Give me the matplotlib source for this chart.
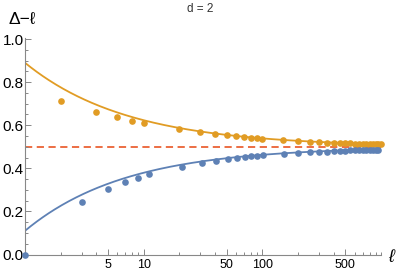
import numpy as np
import matplotlib.pyplot as plt
from matplotlib.ticker import FixedLocator, NullFormatter, MultipleLocator

plt.rcParams['font.family'] = ['Liberation Sans', 'DejaVu Sans']

#------------------------------------------------------------------------------
# Data
#------------------------------------------------------------------------------
l_even = [2, 4, 6, 8, 10, 20, 30, 40, 50, 60, 70, 80, 90, 100,
          150, 200, 250, 300, 350, 400, 450, 500, 550, 600, 650, 700,
          750, 800, 850, 900, 950, 1000]
d_even = [0.714, 0.663, 0.638, 0.622, 0.612, 0.582, 0.567, 0.558, 0.553,
          0.548, 0.545, 0.542, 0.539, 0.537, 0.531, 0.527, 0.523, 0.521,
          0.519, 0.518, 0.517, 0.516, 0.5155, 0.515, 0.5145, 0.514, 0.5135,
          0.513, 0.5125, 0.512, 0.512, 0.5115]

l_odd = [1, 3, 5, 7, 9, 11, 21, 31, 41, 51, 61, 71, 81, 91, 101,
         151, 201, 251, 301, 351, 401, 451, 501, 551, 601, 651, 701,
         751, 801, 851, 901, 951]
d_odd = [0.0, 0.244, 0.305, 0.337, 0.356, 0.374, 0.408, 0.427, 0.436, 0.444,
         0.449, 0.452, 0.455, 0.458, 0.461, 0.467, 0.472, 0.475, 0.477, 0.478,
         0.480, 0.481, 0.482, 0.483, 0.4835, 0.484, 0.4845, 0.485, 0.4855,
         0.486, 0.486, 0.4865]

# asymptotic curves: 0.5 +/- amp / l^p
asym = 0.5
amp_even, pow_even = 0.39, 0.5
amp_odd, pow_odd = 0.39, 0.51

blue = '#5E81B5'
orange = '#E19C24'
red = '#EB6235'

#------------------------------------------------------------------------------
# Plot
#------------------------------------------------------------------------------
fig = plt.figure(figsize=(3.99, 2.75), dpi=100)
ax = fig.add_axes([25/399, (275-254.5)/275, (381-25)/399, (254.5-38)/275])

lc = np.geomspace(1, 1000, 300)
ax.plot(lc, asym + amp_even * lc**(-pow_even), color=orange, lw=1.3, zorder=2)
ax.plot(lc, asym - amp_odd * lc**(-pow_odd), color=blue, lw=1.3, zorder=2)
ax.axhline(asym, color=red, lw=1.3, ls=(0, (4, 2.5)), zorder=1)

ax.plot(l_even, d_even, 'o', color=orange, ms=4.8, mew=0, zorder=3, clip_on=False)
ax.plot(l_odd, d_odd, 'o', color=blue, ms=4.8, mew=0, zorder=3, clip_on=False)

ax.set_xscale('log')
ax.set_xlim(1, 1000)
ax.set_ylim(0, 1.005)

ax.xaxis.set_major_locator(FixedLocator([5, 10, 50, 100, 500]))
ax.xaxis.set_minor_locator(FixedLocator([1, 2, 3, 4, 6, 7, 8, 9, 20, 30, 40, 60, 70,
                                         80, 90, 200, 300, 400, 600, 700, 800, 900, 1000]))
ax.xaxis.set_minor_formatter(NullFormatter())
ax.set_xticklabels(['5', '10', '50', '100', '500'])
ax.yaxis.set_major_locator(MultipleLocator(0.2))
ax.yaxis.set_minor_locator(MultipleLocator(0.05))
ax.yaxis.set_major_formatter(plt.FuncFormatter(lambda v, p: '%.1f' % v))

for s in ['top', 'right']:
    ax.spines[s].set_visible(False)
for s in ['left', 'bottom']:
    ax.spines[s].set_color('#888888')
    ax.spines[s].set_linewidth(0.8)

ax.tick_params(axis='both', which='both', direction='in', color='#888888', width=0.7)
ax.tick_params(axis='both', which='major', length=4.5)
ax.tick_params(axis='both', which='minor', length=2.5)
ax.tick_params(axis='x', labelsize=9, pad=3)
ax.tick_params(axis='y', labelsize=11, pad=1)

fig.text(22/399, 1 - 20/275, '\u0394\u2212\u2113', ha='center', va='center', fontsize=12.5)
fig.text(391/399, 1 - 258/275, '\u2113', ha='center', va='center', fontsize=13, style='italic')
fig.text(200/399, 1 - 9/275, 'd = 2', ha='center', va='center', fontsize=8.5, color='#333333')

plt.savefig('out.png', dpi=100)
